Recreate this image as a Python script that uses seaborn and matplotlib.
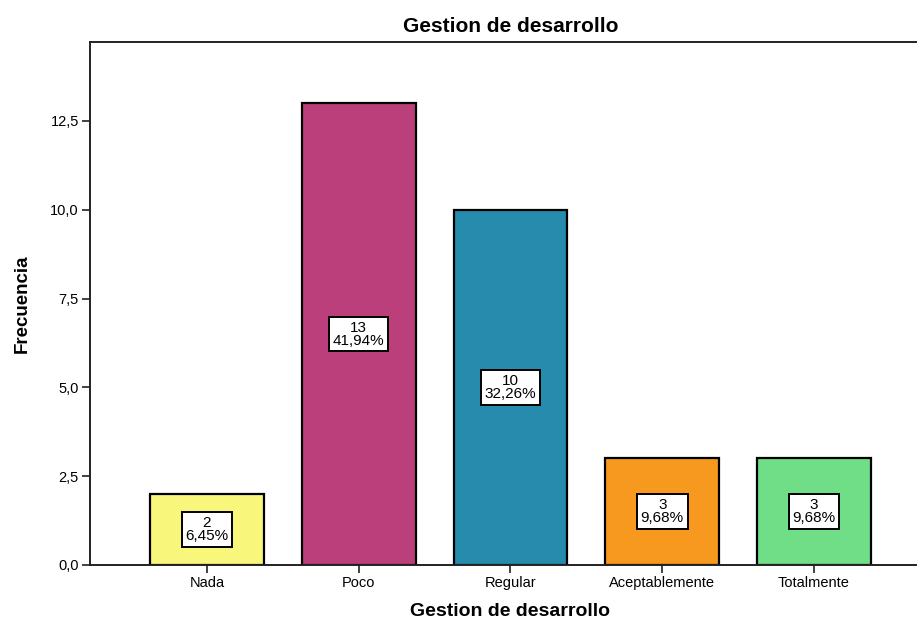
import matplotlib
matplotlib.use("Agg")
import matplotlib.pyplot as plt
import seaborn as sns
import pandas as pd

# Frequency table for "Gestion de desarrollo"
categorias = ["Nada", "Poco", "Regular", "Aceptablemente", "Totalmente"]
frecuencias = [2, 13, 10, 3, 3]
colores = ["#f8f77c", "#bb3f7b", "#268bad", "#f7991f", "#70de86"]
y_ticks = [0.0, 2.5, 5.0, 7.5, 10.0, 12.5]

total = sum(frecuencias)
df = pd.DataFrame({"categoria": categorias, "frecuencia": frecuencias})

sns.set_theme(style="white")
plt.rcParams["font.family"] = ["Liberation Sans", "DejaVu Sans"]
plt.rcParams["text.color"] = "black"
plt.rcParams["axes.labelcolor"] = "black"
plt.rcParams["xtick.color"] = "black"
plt.rcParams["ytick.color"] = "black"

fig = plt.figure(figsize=(9.17, 6.21), dpi=100)
ax = fig.add_axes([90 / 917, 56 / 621, 841 / 917, 523 / 621])

sns.barplot(data=df, x="categoria", y="frecuencia", hue="categoria",
            palette=colores, legend=False, width=0.75,
            edgecolor="black", linewidth=1.6, saturation=1, ax=ax)

# Count and percentage label in the middle of each bar
for i, n in enumerate(frecuencias):
    pct = f"{n / total * 100:.2f}".replace(".", ",")
    ax.text(i, n / 2, f"{n}\n{pct}%", ha="center", va="center",
            fontsize=11, linespacing=0.9, color="black",
            bbox=dict(boxstyle="square,pad=0.25", facecolor="white",
                      edgecolor="black", linewidth=1.4))

ax.set_xlim(-0.771, len(categorias) - 1 + 0.771)
ax.set_ylim(0, 14.72)
ax.set_yticks(y_ticks)
ax.set_yticklabels([f"{v:.1f}".replace(".", ",") for v in y_ticks])

ax.tick_params(axis="both", which="major", direction="out", length=6,
               width=1.3, color="#333333", labelsize=10.5, pad=2,
               labelcolor="black", bottom=True, left=True)
for side in ["left", "top", "bottom", "right"]:
    ax.spines[side].set_visible(True)
    ax.spines[side].set_color("#222222")
    ax.spines[side].set_linewidth(1.4)

ax.set_title("Gestion de desarrollo", fontsize=15, fontweight="bold",
             color="black", pad=7)
ax.set_xlabel("Gestion de desarrollo", fontsize=14, fontweight="bold",
              color="black", labelpad=9)
ax.set_ylabel("Frecuencia", fontsize=13.5, fontweight="bold",
              color="black", labelpad=14)

fig.savefig("out.png", dpi=100)
